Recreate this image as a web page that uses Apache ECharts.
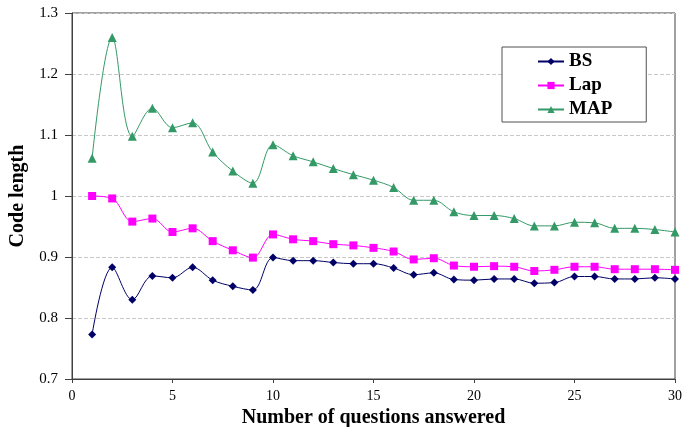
<!DOCTYPE html>
<html><head><meta charset="utf-8">
<script src="https://cdn.jsdelivr.net/npm/echarts@6/dist/echarts.min.js"></script>
<style>html,body{margin:0;padding:0;background:#fff}#c{width:684px;height:427px}</style>
</head><body><div id="c"></div>
<script>
const questions = [1,2,3,4,5,6,7,8,9,10,11,12,13,14,15,16,17,18,19,20,21,22,23,24,25,26,27,28,29,30];
const bsValues  = [0.773,0.883,0.830,0.869,0.866,0.883,0.862,0.852,0.846,0.899,0.894,0.894,0.891,0.889,0.889,0.882,0.871,0.874,0.863,0.862,0.864,0.864,0.857,0.858,0.868,0.868,0.864,0.864,0.866,0.864];
const lapValues = [1.000,0.996,0.958,0.963,0.941,0.947,0.926,0.911,0.899,0.937,0.929,0.926,0.921,0.919,0.915,0.909,0.896,0.898,0.886,0.884,0.885,0.884,0.877,0.879,0.884,0.884,0.880,0.880,0.880,0.879];
const mapValues = [1.062,1.260,1.098,1.144,1.112,1.120,1.072,1.041,1.021,1.084,1.066,1.056,1.045,1.035,1.026,1.014,0.993,0.993,0.974,0.968,0.968,0.963,0.951,0.951,0.957,0.956,0.947,0.947,0.945,0.941];
const xTicks = [0,5,10,15,20,25,30];
const yTicks = [0.7,0.8,0.9,1.0,1.1,1.2,1.3];

const serif = '"Liberation Serif","Times New Roman",serif';
const pair = v => questions.map((q,i)=>[q,v[i]]);
const chart = echarts.init(document.getElementById('c'));
chart.setOption({
  animation:false,
  backgroundColor:'#fff',
  grid:{left:72,right:9,top:13,bottom:48,show:true,borderColor:'#404040',borderWidth:1,
    containLabel:false,outerBoundsMode:'none'},
  xAxis:{type:'value',min:xTicks[0],max:xTicks[xTicks.length-1],interval:5,
    name:'Number of questions answered',nameLocation:'middle',nameGap:27,
    nameTextStyle:{fontFamily:serif,fontWeight:'bold',fontSize:20,color:'#000'},
    axisLine:{lineStyle:{color:'#404040'}},
    axisTick:{show:true,length:4,lineStyle:{color:'#404040'}},
    axisLabel:{fontFamily:serif,fontSize:14,color:'#000',margin:10},
    splitLine:{show:false}},
  yAxis:{type:'value',min:yTicks[0],max:yTicks[yTicks.length-1],interval:0.1,
    name:'Code length',nameLocation:'middle',nameGap:44,
    nameTextStyle:{fontFamily:serif,fontWeight:'bold',fontSize:20,color:'#000'},
    axisLine:{show:true,lineStyle:{color:'#404040'}},
    axisTick:{show:true,length:7,lineStyle:{color:'#404040'}},
    axisLabel:{fontFamily:serif,fontSize:15,color:'#000',margin:14,
      formatter:v=>String(Math.round(v*10)/10)},
    splitLine:{show:true,lineStyle:{color:'#c8c8c8',type:'dashed',width:1}}},
  legend:{orient:'vertical',left:502,top:47,
    padding:[5,34,3,35],itemGap:5,itemWidth:26,itemHeight:9,
    backgroundColor:'#fff',borderColor:'#505050',borderWidth:1,
    textStyle:{fontFamily:serif,fontWeight:'bold',fontSize:19,color:'#000'},
    data:['BS','Lap','MAP']},
  series:[
    {name:'BS',type:'line',data:pair(bsValues),smooth:0.35,symbol:'diamond',symbolSize:8,
      itemStyle:{color:'#000066'},lineStyle:{color:'#000066',width:1}},
    {name:'Lap',type:'line',data:pair(lapValues),smooth:0.35,symbol:'rect',symbolSize:8,
      itemStyle:{color:'#ff00ff'},lineStyle:{color:'#ff00ff',width:1}},
    {name:'MAP',type:'line',data:pair(mapValues),smooth:0.35,symbol:'triangle',symbolSize:9,
      itemStyle:{color:'#339966'},lineStyle:{color:'#339966',width:1}}
  ]
});
</script></body></html>
